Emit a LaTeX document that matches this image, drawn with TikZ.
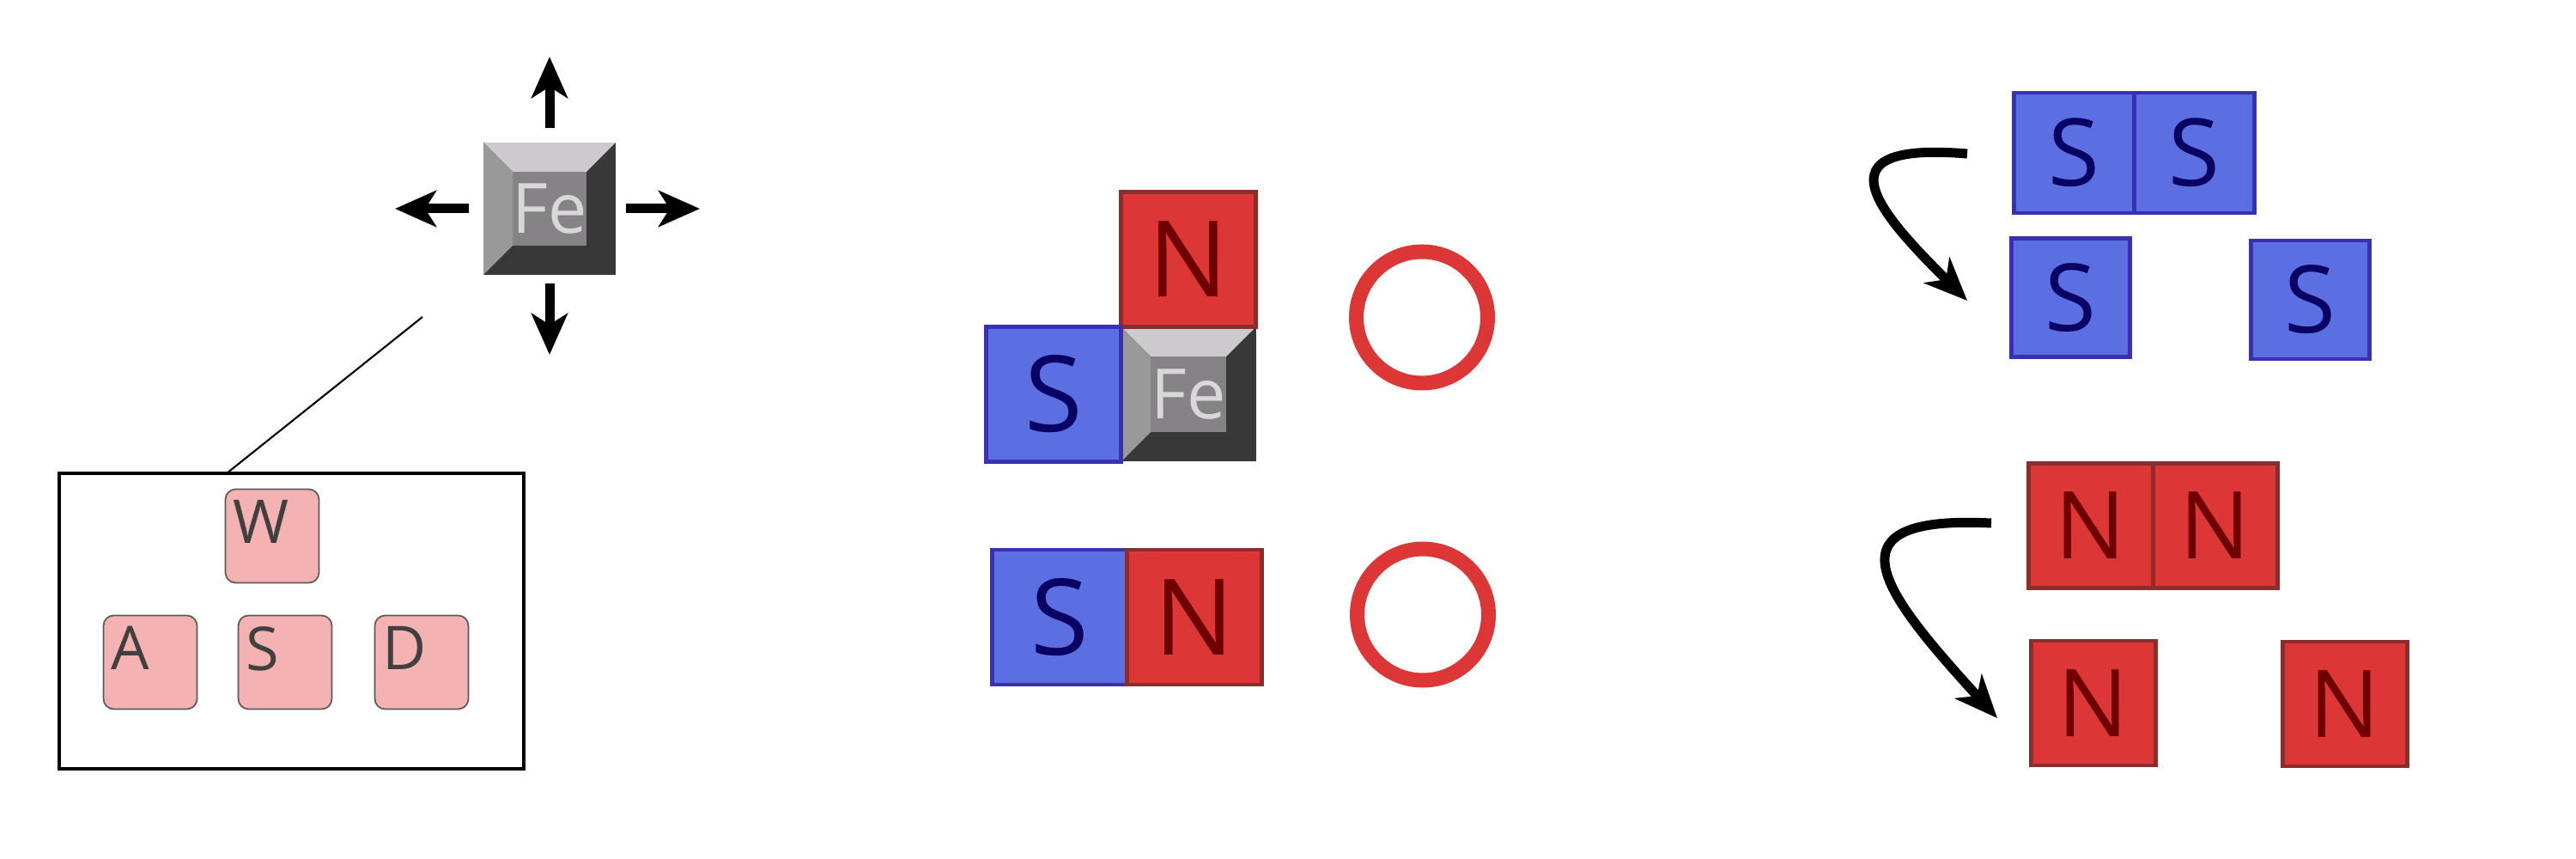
\documentclass[tikz,border=0pt]{standalone}
\usepackage{fontspec}
\setmainfont{Open Sans}
\usetikzlibrary{arrows.meta, positioning, calc}
\definecolor{southfill}{HTML}{5B6FE2}
\definecolor{southedge}{HTML}{3A30B4}
\definecolor{southtext}{HTML}{0A0064}
\definecolor{northfill}{HTML}{DC3636}
\definecolor{northedge}{HTML}{8C2D2D}
\definecolor{northtext}{HTML}{6E0000}
\definecolor{keyfill}{HTML}{F4B2B2}
\definecolor{keyedge}{HTML}{5A5A5A}
\definecolor{keytext}{HTML}{404040}
\definecolor{fetop}{HTML}{CCCACD}
\definecolor{feleft}{HTML}{999999}
\definecolor{fedark}{HTML}{383838}
\definecolor{feface}{HTML}{858385}
\definecolor{fetext}{HTML}{D8D8D8}

\begin{document}
\begin{tikzpicture}[
  outer sep=0pt,
  pole/.style={rectangle, line width=1.4pt, inner sep=0pt},
  south/.style={pole, fill=southfill, draw=southedge, text=southtext},
  north/.style={pole, fill=northfill, draw=northedge, text=northtext},
  midsize/.style={minimum size=1.57cm, font=\fontsize{35}{35}\selectfont},
  sidesize/.style={minimum size=#1, font=\fontsize{31}{31}\selectfont},
  ring/.style={circle, draw=northfill, line width=0.17cm, minimum size=1.53cm, inner sep=0pt},
  keyletter/.style={anchor=north west, inner sep=0pt, xshift=0.9mm, yshift=-1.3mm, text=keytext, font=\fontsize{20}{20}\selectfont},
  wasdkey/.style={rectangle, rounded corners=1.2mm, draw=keyedge, line width=0.5pt, fill=keyfill, minimum size=1.09cm, inner sep=0pt, label={[keyletter]north west:#1}},
  feblock/.style={rectangle, minimum size=#1, inner sep=0pt, fill=fedark, text=fetext, font=\fontsize{23}{23}\selectfont,
    path picture={
      \coordinate (o1) at (path picture bounding box.north west);
      \coordinate (o2) at (path picture bounding box.north east);
      \coordinate (o3) at (path picture bounding box.south east);
      \coordinate (o4) at (path picture bounding box.south west);
      \coordinate (i1) at ($(o1)!0.22!(o3)$);
      \coordinate (i2) at ($(o2)!0.22!(o4)$);
      \coordinate (i3) at ($(o1)!0.78!(o3)$);
      \coordinate (i4) at ($(o2)!0.78!(o4)$);
      \fill[fetop] (o1) -- (o2) -- (i2) -- (i1) -- cycle;
      \fill[feleft] (o1) -- (i1) -- (i4) -- (o4) -- cycle;
      \fill[feface] (i1) rectangle (i3);
    }},
  pusharrow/.style={line width=0.11cm, -{Stealth[length=4.8mm, width=4.2mm, inset=1.3mm]}},
  swaparrow/.style={line width=0.11cm, -{Stealth[length=5mm, width=4.2mm, inset=1.5mm]}},
]
\useasboundingbox (0,0) rectangle (30,-10);

\node[feblock=1.54cm] (feiron) at (6.40,-2.43) {Fe};
\coordinate[above=1.0cm of feiron] (pushup);
\coordinate[left=1.03cm of feiron] (pushleft);
\coordinate[right=0.98cm of feiron] (pushright);
\coordinate[below=0.93cm of feiron] (pushdown);
\draw[pusharrow, shorten <=1.7mm] (feiron) -- (pushup);
\draw[pusharrow, shorten <=1.7mm] (feiron) -- (pushleft);
\draw[pusharrow, shorten <=1.2mm] (feiron) -- (pushright);
\draw[pusharrow, shorten <=1.0mm] (feiron) -- (pushdown);

\node[draw, line width=0.9pt, minimum width=5.41cm, minimum height=3.44cm] (wasd) at (3.395,-7.23) {};
\coordinate (zoomtip) at (4.92,-3.69);
\draw[line width=0.6pt] (zoomtip) -- ([xshift=1.95cm]wasd.north west);
\node[wasdkey=S] (keyS) at (3.32,-7.71) {};
\node[wasdkey=A, left=0.48cm of keyS] (keyA) {};
\node[wasdkey=D, right=0.5cm of keyS] (keyD) {};
\node[wasdkey=W, above=0.38cm of keyS, xshift=-0.15cm] (keyW) {};

\node[feblock=1.57cm] (femid) at (13.84,-4.59) {Fe};
\node[north, midsize, above=0pt of femid] (nmid) {N};
\node[south, midsize, left=0pt of femid] (smid) {S};
\node[ring] (ringa) at (16.56,-3.695) {};
\node[south, midsize] (slow) at (12.34,-7.185) {S};
\node[north, midsize, right=0pt of slow] (nlow) {N};
\node[ring] (ringb) at (16.57,-7.155) {};

\node[south, sidesize=1.40cm] (sa) at (24.155,-1.78) {S};
\node[south, sidesize=1.40cm, right=0pt of sa] (sb) {S};
\node[south, sidesize=1.38cm] (sc) at (24.115,-3.465) {S};
\node[south, sidesize=1.38cm] (sd) at (26.90,-3.49) {S};
\coordinate (swapsa) at (22.91,-1.79);
\coordinate (swapsb) at (22.91,-3.50);
\draw[swaparrow] (swapsa) .. controls (21.11,-1.64) and (21.91,-2.50) .. (swapsb);

\node[north, sidesize=1.45cm] (na) at (24.35,-6.12) {N};
\node[north, sidesize=1.45cm, right=0pt of na] (nb) {N};
\node[north, sidesize=1.45cm] (nc) at (24.375,-8.185) {N};
\node[north, sidesize=1.45cm] (nd) at (27.305,-8.195) {N};
\coordinate (swapna) at (23.19,-6.09);
\coordinate (swapnb) at (23.26,-8.36);
\draw[swaparrow] (swapna) .. controls (21.19,-5.99) and (21.96,-6.93) .. (swapnb);
\end{tikzpicture}
\end{document}
